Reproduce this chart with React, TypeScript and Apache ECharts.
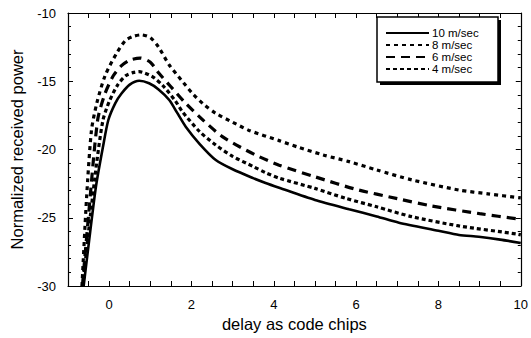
import React, { useEffect, useRef } from "react";
import * as echarts from "echarts";

const seriesNames = ["10 m/sec", "8 m/sec", "6 m/sec", "4 m/sec"];

const x10 = [-0.62, -0.5, -0.32, -0.15, -0.02, 0.15, 0.3, 0.5, 0.73, 0.97, 1.2, 1.46, 1.65, 1.86, 2.2, 2.59, 3.0, 3.5, 3.8, 4.13, 5.0, 5.83, 6.5, 7.04, 8.0, 8.5, 8.98, 9.5, 10];
const y10 = [-30, -27, -22.7, -19.8, -17.84, -16.6, -15.9, -15.25, -14.96, -15.15, -15.6, -16.37, -17.3, -18.33, -19.6, -20.77, -21.45, -22.1, -22.45, -22.8, -23.7, -24.38, -24.9, -25.36, -25.95, -26.26, -26.39, -26.6, -26.85];

const x8 = [-0.66, -0.55, -0.43, -0.3, -0.1, 0.18, 0.4, 0.6, 0.78, 1.0, 1.2, 1.46, 1.75, 2.02, 2.3, 2.59, 3.0, 3.4, 4.13, 4.61, 5.2, 5.83, 6.5, 7.36, 8.5, 9.2, 10];
const y8 = [-30, -23.6, -18.6, -16.6, -14.6, -12.95, -12.0, -11.7, -11.6, -11.8, -12.5, -13.81, -14.9, -15.88, -16.7, -17.35, -18.0, -18.6, -19.35, -19.85, -20.4, -20.89, -21.5, -22.23, -22.97, -23.25, -23.55];

const x6 = [-0.65, -0.5, -0.28, -0.1, 0.1, 0.3, 0.5, 0.75, 1.0, 1.21, 1.5, 1.86, 2.3, 2.75, 3.2, 3.64, 4.13, 5.0, 6.0, 7.0, 7.84, 9.0, 9.9, 10];
const y6 = [-30, -24.8, -17.84, -15.9, -14.6, -13.85, -13.45, -13.3, -13.6, -14.42, -15.4, -16.62, -17.9, -19.06, -19.85, -20.52, -21.15, -22.0, -22.92, -23.6, -24.14, -24.7, -25.07, -25.1];

const x4 = [-0.64, -0.5, -0.3, -0.15, 0.0, 0.2, 0.4, 0.6, 0.73, 1.05, 1.3, 1.6, 1.78, 2.2, 2.59, 3.0, 3.5, 3.8, 4.13, 5.0, 5.75, 6.5, 7.35, 8.5, 9.9, 10];
const y4 = [-30, -26.0, -20.9, -17.84, -16.5, -15.3, -14.6, -14.35, -14.3, -14.66, -15.3, -16.4, -17.23, -18.7, -19.67, -20.5, -21.25, -21.7, -22.1, -22.85, -23.58, -24.2, -24.92, -25.6, -26.19, -26.25];

const xTicks = [0, 2, 4, 6, 8, 10];
const yTicks = [-30, -25, -20, -15, -10];

const pairs = (xs: number[], ys: number[]) => xs.map((x, i) => [x, ys[i]]);

const FONT = "Liberation Sans";

export default function App() {
  const ref = useRef<HTMLDivElement>(null);
  useEffect(() => {
    if (!ref.current) return;
    const chart = echarts.init(ref.current, undefined, { renderer: "svg" });
    const tickStyle = { show: true, inside: true, length: 5, lineStyle: { color: "#000", width: 1 } };
    const minorStyle = { show: true, splitNumber: 5, length: 3, lineStyle: { color: "#000", width: 1 } };
    const axisLine = { show: true, onZero: false, lineStyle: { color: "#000", width: 1.2 } };
    const lineStyles = [
      { type: "solid", width: 2.6 },
      { type: [4, 4], width: 3.2 },
      { type: [9, 6], width: 3.2 },
      { type: [4, 3], width: 3.2 },
    ];
    const datas = [pairs(x10, y10), pairs(x8, y8), pairs(x6, y6), pairs(x4, y4)];
    chart.setOption({
      animation: false,
      backgroundColor: "#fff",
      textStyle: { fontFamily: FONT, color: "#000" },
      grid: { left: 68, right: 9, top: 13, bottom: 52, containLabel: false },
      legend: {
        orient: "vertical",
        left: 377,
        top: 17,
        data: seriesNames,
        itemWidth: 43,
        itemHeight: 11,
        itemGap: 0,
        padding: [10, 10, 10, 8],
        itemStyle: { opacity: 0 },
        textStyle: { fontFamily: FONT, fontSize: 11.5, lineHeight: 11, color: "#000", padding: [0, 0, 0, -2] },
        z: 10,
      },
      graphic: [
        {
          type: "rect",
          z: 8,
          shape: { x: 380, y: 20, width: 121, height: 65 },
          style: { fill: "#000" },
        },
        {
          type: "rect",
          z: 9,
          shape: { x: 377, y: 17, width: 121, height: 65 },
          style: { fill: "#fff", stroke: "#000", lineWidth: 1.5 },
        },
      ],
      xAxis: [
        {
          type: "value",
          min: -1,
          max: 10,
          interval: 0.5,
          name: "delay as code chips",
          nameLocation: "middle",
          nameGap: 28,
          nameTextStyle: { fontFamily: FONT, fontSize: 16.5, color: "#000" },
          axisLine,
          axisTick: tickStyle,
          splitLine: { show: false },
          axisLabel: {
            fontFamily: FONT,
            fontSize: 13,
            color: "#000",
            margin: 12,
            formatter: (v: number) => (xTicks.indexOf(v) >= 0 ? String(v) : ""),
          },
        },
        {
          type: "value",
          position: "top",
          min: -1,
          max: 10,
          interval: 0.5,
          axisLine,
          axisTick: tickStyle,
          axisLabel: { show: false },
          splitLine: { show: false },
        },
      ],
      yAxis: [
        {
          type: "value",
          min: -30,
          max: -10,
          interval: 5,
          name: "Normalized received power",
          nameLocation: "middle",
          nameGap: 43,
          nameTextStyle: { fontFamily: FONT, fontSize: 16.5, color: "#000" },
          axisLine,
          axisTick: tickStyle,
          minorTick: minorStyle,
          splitLine: { show: false },
          axisLabel: {
            fontFamily: FONT,
            fontSize: 13,
            color: "#000",
            margin: 12,
            formatter: (v: number) => (yTicks.indexOf(v) >= 0 ? String(v) : ""),
          },
        },
        {
          type: "value",
          position: "right",
          min: -30,
          max: -10,
          interval: 5,
          axisLine,
          axisTick: tickStyle,
          minorTick: minorStyle,
          axisLabel: { show: false },
          splitLine: { show: false },
        },
      ],
      series: seriesNames.map((name, i) => ({
        name,
        type: "line",
        data: datas[i],
        smooth: 0.25,
        showSymbol: false,
        symbol: "none",
        clip: true,
        lineStyle: { color: "#000", ...lineStyles[i] },
        itemStyle: { color: "#000" },
        z: 3,
      })),
    });
    return () => chart.dispose();
  }, []);
  return <div ref={ref} style={{ width: 531, height: 338, position: "absolute", left: 0, top: 0 }} />;
}
